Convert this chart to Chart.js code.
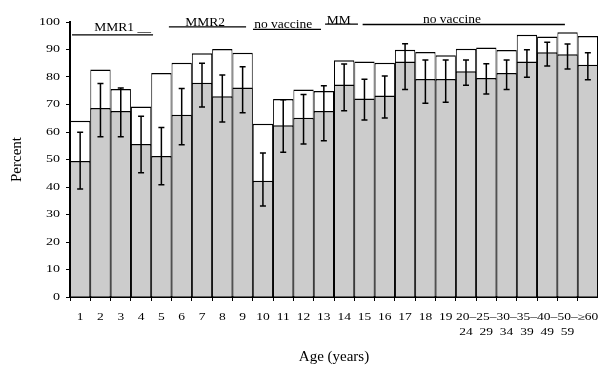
<!DOCTYPE html>
<html>
<head>
<meta charset="utf-8">
<script src="https://cdn.jsdelivr.net/npm/chart.js@4.4.1/dist/chart.umd.min.js"></script>
<style>
  html, body { margin: 0; padding: 0; background: #ffffff; }
  #wrap { width: 598px; height: 365px; }
  canvas { display: block; }
</style>
</head>
<body>
<div id="wrap"><canvas id="c" width="598" height="365"></canvas></div>
<script>
// ---- data ----
const ageLabels = ['1','2','3','4','5','6','7','8','9','10','11','12','13','14','15','16','17','18','19',
  ['20–','24'],['25–','29'],['30–','34'],['35–','39'],['40–','49'],['50–','59'],'≥60'];
const totalValues = [64.1, 82.7, 75.6, 69.3, 81.5, 85.2, 88.6, 90.2, 88.8, 63.0, 72.0, 75.5, 74.9,
  86.1, 85.6, 85.2, 89.9, 89.1, 87.9, 90.3, 90.7, 89.8, 95.4, 94.7, 96.3, 94.9];
const lowerValues = [49.5, 68.7, 67.6, 55.6, 51.3, 66.3, 77.9, 73.0, 76.2, 42.3, 62.5, 65.2, 67.6,
  77.3, 72.2, 73.3, 85.6, 79.3, 79.3, 82.1, 79.6, 81.5, 85.6, 89.0, 88.3, 84.5];
const errHigh = [59.9, 77.6, 76.0, 65.7, 61.6, 75.8, 85.0, 80.7, 83.7, 52.4, 71.7, 73.6, 76.8,
  84.7, 79.2, 80.4, 92.1, 86.2, 86.2, 86.2, 84.8, 86.2, 89.9, 92.6, 92.0, 88.8];
const errLow = [39.3, 58.3, 58.3, 45.2, 40.8, 55.4, 69.1, 63.6, 67.0, 33.1, 52.6, 55.6, 56.8,
  67.7, 64.4, 65.1, 75.5, 70.5, 70.8, 77.0, 73.8, 75.5, 79.9, 84.0, 82.9, 79.0];
const yTicks = [0, 10, 20, 30, 40, 50, 60, 70, 80, 90, 100];

// annotation texts above the bars (positions in category index / value units)
const annotTexts = ['MMR1 __', 'MMR2', 'no vaccine', 'MM', 'no vaccine'];
const annotTextIdx = [2.09, 6.15, 10.0, 12.74, 18.31];
const annotTextVal = [96.6, 98.7, 97.8, 99.3, 99.6];
const annotLineStart = [-0.40, 4.37, 8.51, 12.06, 13.91];
const annotLineEnd = [3.59, 8.17, 11.86, 13.68, 23.87];
const annotLineVal = [95.3, 98.2, 97.3, 99.2, 99.1];

const xTitle = 'Age (years)';
const yTitle = 'Percent';

// ---- styling ----
const FONT = 'Liberation Serif';
const TICK_SQUASH = 0.7;
Chart.defaults.font.family = FONT;
Chart.defaults.color = '#000000';

// tick labels in the reference are vertically compressed; draw them with a squash transform
const squashTicks = {
  id: 'squashTicks',
  beforeDraw(chart) {
    ['x', 'y'].forEach(id => {
      const sc = chart.scales[id];
      if (!sc || sc._squashed) return;
      sc._squashed = true;
      const orig = sc.drawLabels;
      sc.drawLabels = function (area) {
        const ctx = this.ctx;
        const f = ctx.fillText;
        ctx.fillText = function (t, x, y, mw) {
          ctx.save();
          ctx.translate(x, y);
          ctx.scale(1, TICK_SQUASH);
          if (mw === undefined) f.call(ctx, t, 0, 0); else f.call(ctx, t, 0, 0, mw);
          ctx.restore();
        };
        try { orig.call(this, area); } finally { delete ctx.fillText; }
      };
    });
  }
};

const errorBars = {
  id: 'errorBars',
  afterDatasetsDraw(chart) {
    const ctx = chart.ctx;
    const meta = chart.getDatasetMeta(0);
    const ys = chart.scales.y;
    ctx.save();
    ctx.strokeStyle = '#000000';
    ctx.lineWidth = 1.5;
    meta.data.forEach((bar, i) => {
      const x = bar.x;
      const yH = ys.getPixelForValue(errHigh[i]);
      const yL = ys.getPixelForValue(errLow[i]);
      ctx.beginPath();
      ctx.moveTo(x, yH); ctx.lineTo(x, yL);
      ctx.moveTo(x - 3, yH); ctx.lineTo(x + 3, yH);
      ctx.moveTo(x - 3, yL); ctx.lineTo(x + 3, yL);
      ctx.stroke();
    });
    ctx.restore();
  }
};

const annotations = {
  id: 'annotations',
  afterDraw(chart) {
    const ctx = chart.ctx;
    const xs = chart.scales.x, ys = chart.scales.y;
    ctx.save();
    ctx.strokeStyle = '#000000';
    ctx.fillStyle = '#000000';
    ctx.lineWidth = 1.3;
    annotLineStart.forEach((s, i) => {
      const y = ys.getPixelForValue(annotLineVal[i]);
      ctx.beginPath();
      ctx.moveTo(xs.getPixelForValue(s), y);
      ctx.lineTo(xs.getPixelForValue(annotLineEnd[i]), y);
      ctx.stroke();
    });
    ctx.font = '13.5px "' + FONT + '"';
    ctx.textAlign = 'center';
    ctx.textBaseline = 'alphabetic';
    annotTexts.forEach((t, i) => {
      ctx.fillText(t, xs.getPixelForValue(annotTextIdx[i]), ys.getPixelForValue(annotTextVal[i]));
    });
    ctx.restore();
  }
};

new Chart(document.getElementById('c'), {
  type: 'bar',
  data: {
    labels: ageLabels,
    datasets: [
      {
        label: 'lower',
        data: lowerValues,
        backgroundColor: '#cccccc',
        borderColor: '#000000',
        borderWidth: { top: 1.5, left: 1, right: 1, bottom: 0 },
        grouped: false,
        barPercentage: 1,
        categoryPercentage: 1,
        inflateAmount: 0
      },
      {
        label: 'total',
        data: totalValues,
        backgroundColor: '#ffffff',
        borderColor: '#000000',
        borderWidth: { top: 1.5, left: 1, right: 1, bottom: 0 },
        grouped: false,
        barPercentage: 1,
        categoryPercentage: 1,
        inflateAmount: 0
      }
    ]
  },
  options: {
    responsive: false,
    animation: false,
    devicePixelRatio: 1,
    layout: { padding: { top: 22, right: 0, bottom: 0, left: 0 } },
    plugins: { legend: { display: false }, tooltip: { enabled: false } },
    scales: {
      x: {
        offset: true,
        grid: { offset: true, drawOnChartArea: false, drawTicks: true, tickLength: 4, color: '#000000', lineWidth: 1 },
        border: { display: true, color: '#000000', width: 2 },
        ticks: {
          autoSkip: false, maxRotation: 0, minRotation: 0, padding: 8.5,
          font: { family: FONT, size: 13.5, lineHeight: 1.15 }, color: '#000000'
        },
        title: { display: true, text: xTitle, font: { family: FONT, size: 15, lineHeight: 1.1 }, padding: { top: 0, bottom: 0 }, color: '#000000' },
        afterFit(s) { s.height = 68; s.paddingLeft = 0; s.paddingRight = 0; }
      },
      y: {
        min: 0, max: 100,
        afterBuildTicks(s) { s.ticks = yTicks.map(v => ({ value: v })); },
        grid: { drawOnChartArea: false, drawTicks: true, tickLength: 4, color: '#000000', lineWidth: 1 },
        border: { display: true, color: '#000000', width: 2 },
        ticks: { padding: 6, font: { family: FONT, size: 14 }, color: '#000000' },
        title: { display: true, text: yTitle, font: { family: FONT, size: 15, lineHeight: 1.1 }, padding: { top: 8.5, bottom: 0 }, color: '#000000' },
        afterFit(s) { s.width = 70; s.paddingTop = 0; s.paddingBottom = 0; }
      }
    }
  },
  plugins: [squashTicks, errorBars, annotations]
});
</script>
</body>
</html>
